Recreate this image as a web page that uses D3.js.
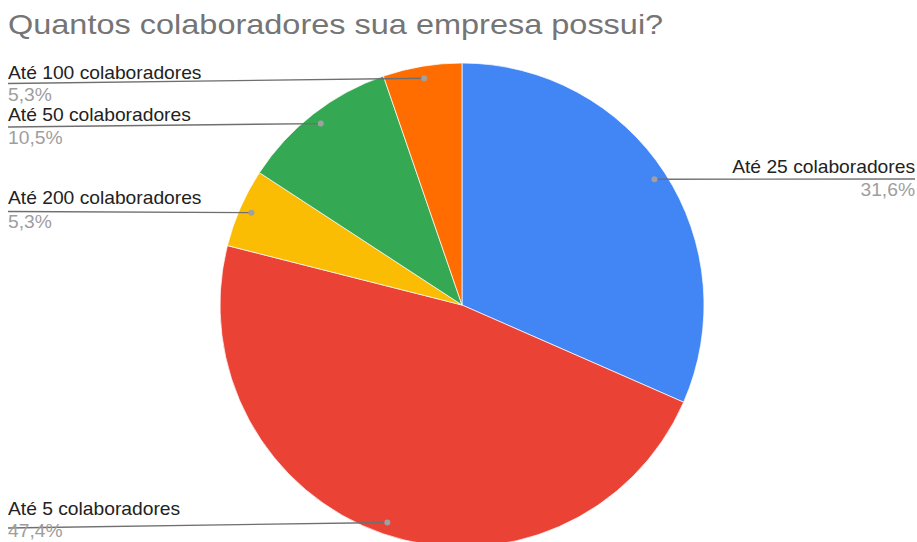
<!DOCTYPE html>
<html>
<head>
<meta charset="utf-8">
<script src="https://cdn.jsdelivr.net/npm/d3@7"></script>
<style>
  html, body { margin: 0; padding: 0; background: #fff; }
  svg { display: block; }
</style>
</head>
<body>
<svg id="chart" width="917" height="542"></svg>
<script>
// Responses per company-size bracket, in clockwise order from 12 o'clock
const categories = ["Até 25 colaboradores", "Até 5 colaboradores", "Até 200 colaboradores", "Até 50 colaboradores", "Até 100 colaboradores"];
const counts = [6, 9, 1, 2, 1];
const percentLabels = ["31,6%", "47,4%", "5,3%", "10,5%", "5,3%"];
const colors = ["#4285F4", "#EA4335", "#FBBC04", "#34A853", "#FF6D01"];

const W = 917, H = 542;
const cx = 462, cy = 305, R = 242;

const svg = d3.select("#chart");
const font = "'Liberation Sans', Arial, sans-serif";

// Text drawn slightly widened, anchored at (x, y)
function addText(parent, x, y, str, size, color, anchor, sx) {
  return parent.append("text")
    .attr("transform", `translate(${x},${y}) scale(${sx},1)`)
    .attr("text-anchor", anchor)
    .attr("font-family", font).attr("font-size", size)
    .attr("fill", color)
    .text(str);
}

// Title
addText(svg, 8, 34, "Quantos colaboradores sua empresa possui?", 28, "#757575", "start", 1.16);

const pie = d3.pie().sort(null).value(d => d)(counts);
const arc = d3.arc().innerRadius(0).outerRadius(R);
const dotArc = d3.arc().innerRadius(R * 0.95).outerRadius(R * 0.95);

const g = svg.append("g").attr("transform", `translate(${cx},${cy})`);
g.selectAll("path.slice")
  .data(pie)
  .join("path")
  .attr("class", "slice")
  .attr("d", arc)
  .attr("fill", (d, i) => colors[i])
  .attr("stroke", "#fff")
  .attr("stroke-width", 0.7);

// Label layout: which side the text sits on and where its leader line ends
const labelLayout = [
  { side: "right", x: 915, nameY: 172.5, lineY: 179,   pctY: 196 },
  { side: "left",  x: 8,   nameY: 515,   lineY: 528,   pctY: 537 },
  { side: "left",  x: 8,   nameY: 204,   lineY: 211.5, pctY: 227.5 },
  { side: "left",  x: 8,   nameY: 121,   lineY: 127,   pctY: 144 },
  { side: "left",  x: 8,   nameY: 78.5,  lineY: 83.5,  pctY: 100.5 }
];

const labels = svg.append("g");
pie.forEach((d, i) => {
  const [dx, dy] = dotArc.centroid(d);
  const px = cx + dx, py = cy + dy;
  const L = labelLayout[i];
  const anchor = L.side === "right" ? "end" : "start";

  labels.append("line")
    .attr("x1", L.x).attr("y1", L.lineY)
    .attr("x2", px).attr("y2", py)
    .attr("stroke", "#6f6f6f").attr("stroke-width", 1.4);

  labels.append("circle")
    .attr("cx", px).attr("cy", py).attr("r", 3)
    .attr("fill", "#a0a0a0");

  addText(labels, L.x, L.nameY, categories[i], 17.5, "#222", anchor, 1.1);
  addText(labels, L.x, L.pctY, percentLabels[i], 17.5, "#9e9e9e", anchor, 1.1);
});
</script>
</body>
</html>
